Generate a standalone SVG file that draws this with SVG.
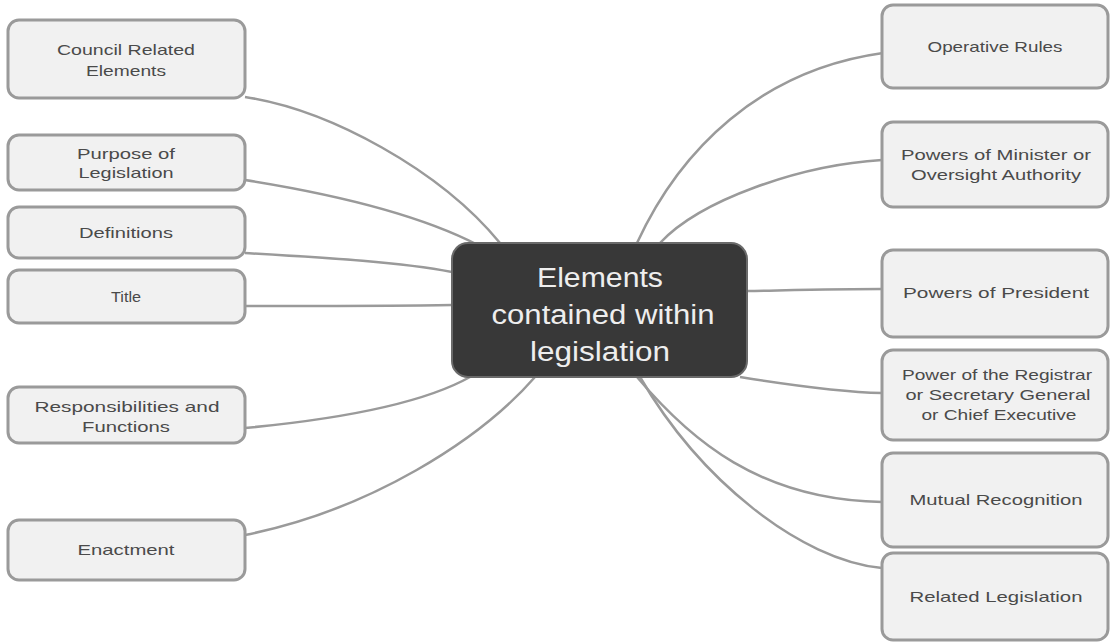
<svg xmlns="http://www.w3.org/2000/svg" width="1110" height="643" viewBox="0 0 1110 643">
<style>
.box{fill:#f1f1f1;stroke:#9a9a9a;stroke-width:3}
.lbl{font-family:"Liberation Sans",Arial,sans-serif;font-size:15px;fill:#4a4a4a;text-anchor:middle}
.ctr{fill:#383838;stroke:#6a6a6a;stroke-width:2}
.ctxt{font-family:"Liberation Sans",Arial,sans-serif;font-size:27px;fill:#eeeeee;text-anchor:middle}
.con{fill:none;stroke:#9a9a9a;stroke-width:2.5}
</style>
<rect width="1110" height="643" fill="#ffffff"/>
<g id="connectors">
<path class="con" d="M245,97 C330,110 440,170 500,243"/>
<path class="con" d="M245,180 C340,195 420,215 478,245"/>
<path class="con" d="M245,253 C330,258 400,262 452,272"/>
<path class="con" d="M245,306 C320,306 400,306 452,305"/>
<path class="con" d="M245,428 C330,420 420,405 470,377"/>
<path class="con" d="M245,535 C370,510 480,440 535,377"/>
<path class="con" d="M637,243 C680,150 760,70 883,53"/>
<path class="con" d="M660,243 C700,200 800,165 882,160"/>
<path class="con" d="M747,291 C800,290 840,289 882,289"/>
<path class="con" d="M740,377 C790,385 840,392 882,393"/>
<path class="con" d="M637,377 C690,440 760,500 882,502"/>
<path class="con" d="M640,377 C700,480 800,560 882,568"/>
</g>
<g id="center">
<rect class="ctr" x="452" y="243" width="295" height="134" rx="16"/>
<text class="ctxt" x="600" y="287" textLength="126" lengthAdjust="spacingAndGlyphs">Elements</text>
<text class="ctxt" x="603" y="324" textLength="223" lengthAdjust="spacingAndGlyphs">contained within</text>
<text class="ctxt" x="600" y="361" textLength="140" lengthAdjust="spacingAndGlyphs">legislation</text>
</g>
<g id="council">
<rect class="box" x="8" y="20" width="237" height="78" rx="11"/>
<text class="lbl" x="126" y="55" textLength="138" lengthAdjust="spacingAndGlyphs">Council Related</text>
<text class="lbl" x="126" y="76" textLength="80" lengthAdjust="spacingAndGlyphs">Elements</text>
</g>
<g id="purpose">
<rect class="box" x="8" y="135" width="237" height="55" rx="11"/>
<text class="lbl" x="126" y="159" textLength="98" lengthAdjust="spacingAndGlyphs">Purpose of</text>
<text class="lbl" x="126" y="178" textLength="95" lengthAdjust="spacingAndGlyphs">Legislation</text>
</g>
<g id="definitions">
<rect class="box" x="8" y="207" width="237" height="51" rx="11"/>
<text class="lbl" x="126" y="238" textLength="94" lengthAdjust="spacingAndGlyphs">Definitions</text>
</g>
<g id="title">
<rect class="box" x="8" y="270" width="237" height="53" rx="11"/>
<text class="lbl" x="126" y="302" textLength="30" lengthAdjust="spacingAndGlyphs">Title</text>
</g>
<g id="responsibilities">
<rect class="box" x="8" y="387" width="237" height="56" rx="11"/>
<text class="lbl" x="127" y="412" textLength="185" lengthAdjust="spacingAndGlyphs">Responsibilities and</text>
<text class="lbl" x="126" y="432" textLength="88" lengthAdjust="spacingAndGlyphs">Functions</text>
</g>
<g id="enactment">
<rect class="box" x="8" y="520" width="237" height="60" rx="11"/>
<text class="lbl" x="126" y="555" textLength="97" lengthAdjust="spacingAndGlyphs">Enactment</text>
</g>
<g id="operative">
<rect class="box" x="882" y="5" width="226" height="83" rx="11"/>
<text class="lbl" x="995" y="52" textLength="135" lengthAdjust="spacingAndGlyphs">Operative Rules</text>
</g>
<g id="minister">
<rect class="box" x="882" y="122" width="226" height="85" rx="11"/>
<text class="lbl" x="996" y="160" textLength="190" lengthAdjust="spacingAndGlyphs">Powers of Minister or</text>
<text class="lbl" x="996" y="180" textLength="170" lengthAdjust="spacingAndGlyphs">Oversight Authority</text>
</g>
<g id="president">
<rect class="box" x="882" y="250" width="226" height="87" rx="11"/>
<text class="lbl" x="996" y="298" textLength="186" lengthAdjust="spacingAndGlyphs">Powers of President</text>
</g>
<g id="registrar">
<rect class="box" x="882" y="350" width="226" height="90" rx="11"/>
<text class="lbl" x="997" y="380" textLength="190" lengthAdjust="spacingAndGlyphs">Power of the Registrar</text>
<text class="lbl" x="998" y="400" textLength="185" lengthAdjust="spacingAndGlyphs">or Secretary General</text>
<text class="lbl" x="999" y="420" textLength="155" lengthAdjust="spacingAndGlyphs">or Chief Executive</text>
</g>
<g id="mutual">
<rect class="box" x="882" y="453" width="226" height="94" rx="11"/>
<text class="lbl" x="996" y="505" textLength="173" lengthAdjust="spacingAndGlyphs">Mutual Recognition</text>
</g>
<g id="related">
<rect class="box" x="882" y="553" width="226" height="87" rx="11"/>
<text class="lbl" x="996" y="602" textLength="173" lengthAdjust="spacingAndGlyphs">Related Legislation</text>
</g>
</svg>
